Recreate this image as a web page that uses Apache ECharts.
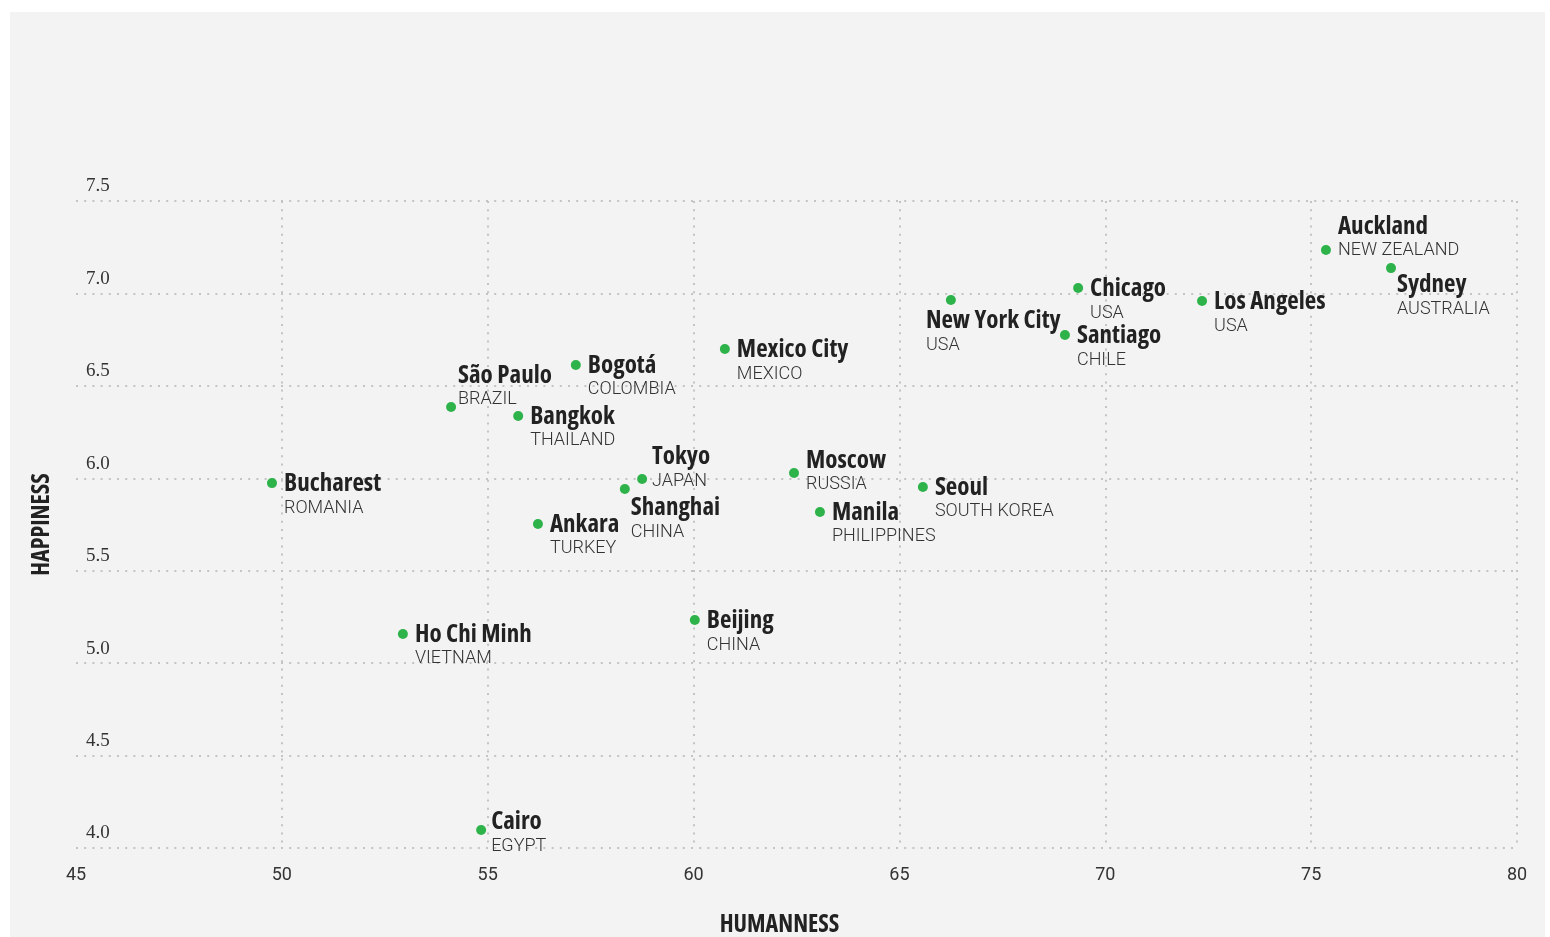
<!DOCTYPE html>
<html>
<head>
<meta charset="utf-8">
<title>Humanness vs Happiness</title>
<script src="https://cdn.jsdelivr.net/npm/echarts@6/dist/echarts.min.js"></script>
<style>
  html, body { margin: 0; background: #fff; }
  #chart { position: absolute; left: 10px; top: 12px; width: 1535px; height: 925px; background: #f3f3f3; }
</style>
</head>
<body>
<div id="chart"></div>
<script>
// values
const cities = ['Auckland', 'Sydney', 'Los Angeles', 'Chicago', 'Santiago', 'New York City',
  'Mexico City', 'Bogotá', 'São Paulo', 'Bangkok', 'Bucharest', 'Tokyo', 'Shanghai',
  'Ankara', 'Moscow', 'Manila', 'Seoul', 'Ho Chi Minh', 'Beijing', 'Cairo']
const countries = ['NEW ZEALAND', 'AUSTRALIA', 'USA', 'USA', 'CHILE', 'USA',
  'MEXICO', 'COLOMBIA', 'BRAZIL', 'THAILAND', 'ROMANIA', 'JAPAN', 'CHINA',
  'TURKEY', 'RUSSIA', 'PHILIPPINES', 'SOUTH KOREA', 'VIETNAM', 'CHINA', 'EGYPT']
const humanness = [75.36, 76.94, 72.35, 69.34, 69.02, 66.25,
  60.76, 57.14, 54.11, 55.74, 49.76, 58.75, 58.33,
  56.22, 62.44, 63.07, 65.57, 52.94, 60.03, 54.84]
const happiness = [7.235, 7.137, 6.959, 7.029, 6.775, 6.964,
  6.699, 6.613, 6.386, 6.337, 5.974, 5.996, 5.942,
  5.753, 6.029, 5.818, 5.953, 5.158, 5.233, 4.097]

const xTicks = { min: 45, max: 80, interval: 5 }
const yTicks = { min: 4, max: 7.5, interval: 0.5 }

// label nudges (px) where the label isn't simply to the right of the dot
const defaultOffset = [0, 12]
const labelOffsets = {
  'Auckland': [0, -12],
  'Sydney': [-6, 28],
  'Shanghai': [-6, 30],
  'New York City': [-37, 32],
  'Tokyo': [-2, -11],
  'Moscow': [0, -1],
  'São Paulo': [-5, -20],
  'Cairo': [-2, 3],
}

// bold condensed face for names and axis titles
const heavy = { fontFamily: '"Open Sans"', fontStyle: 'condensed', fontWeight: 'bold', color: '#222' }

const chart = echarts.init(document.getElementById('chart'))

const points = cities.map((name, i) => ({
  name,
  value: [humanness[i], happiness[i]],
  country: countries[i],
  label: { offset: labelOffsets[name] || defaultOffset },
}))

const gridLine = {
  show: true,
  lineStyle: { color: '#c4c4c4', width: 2, type: [2, 6.2] },
}

const option = {
  animation: false,
  grid: { left: 66, right: 28, top: 189, bottom: 89, outerBoundsMode: 'none' },
  xAxis: {
    type: 'value',
    min: xTicks.min,
    max: xTicks.max,
    interval: xTicks.interval,
    name: 'HUMANNESS',
    nameLocation: 'middle',
    nameGap: 65,
    nameTextStyle: Object.assign({ fontSize: 24, padding: [0, 34, 0, 0] }, heavy),
    axisLine: { show: false },
    axisTick: { show: false },
    axisLabel: { margin: 18, fontFamily: 'Roboto', fontSize: 18, color: '#333' },
    splitLine: Object.assign({ showMinLine: false }, gridLine),
  },
  yAxis: {
    type: 'value',
    min: yTicks.min,
    max: yTicks.max,
    interval: yTicks.interval,
    name: 'HAPPINESS',
    nameLocation: 'middle',
    nameGap: 22,
    nameTextStyle: Object.assign({ fontSize: 24 }, heavy),
    axisLine: { show: false },
    axisTick: { show: false },
    axisLabel: {
      inside: true,
      margin: 10,
      verticalAlign: 'bottom',
      padding: [0, 0, 5, 0],
      fontFamily: '"Liberation Serif", serif',
      fontSize: 19,
      color: '#333',
      formatter: v => v.toFixed(1),
    },
    splitLine: gridLine,
  },
  series: [
    {
      type: 'scatter',
      symbolSize: 10,
      itemStyle: { color: '#2db34a', opacity: 1 },
      data: points,
      label: {
        show: true,
        position: 'right',
        distance: 7,
        formatter: p => `{n|${p.name}}\n{c|${p.data.country}}`,
        rich: {
          n: Object.assign({ fontSize: 25, lineHeight: 26 }, heavy),
          c: { fontFamily: 'Roboto', fontWeight: 300, fontSize: 18, lineHeight: 22, color: '#333' },
        },
      },
      emphasis: { disabled: true },
    },
  ],
}

chart.setOption(option)
</script>
</body>
</html>
